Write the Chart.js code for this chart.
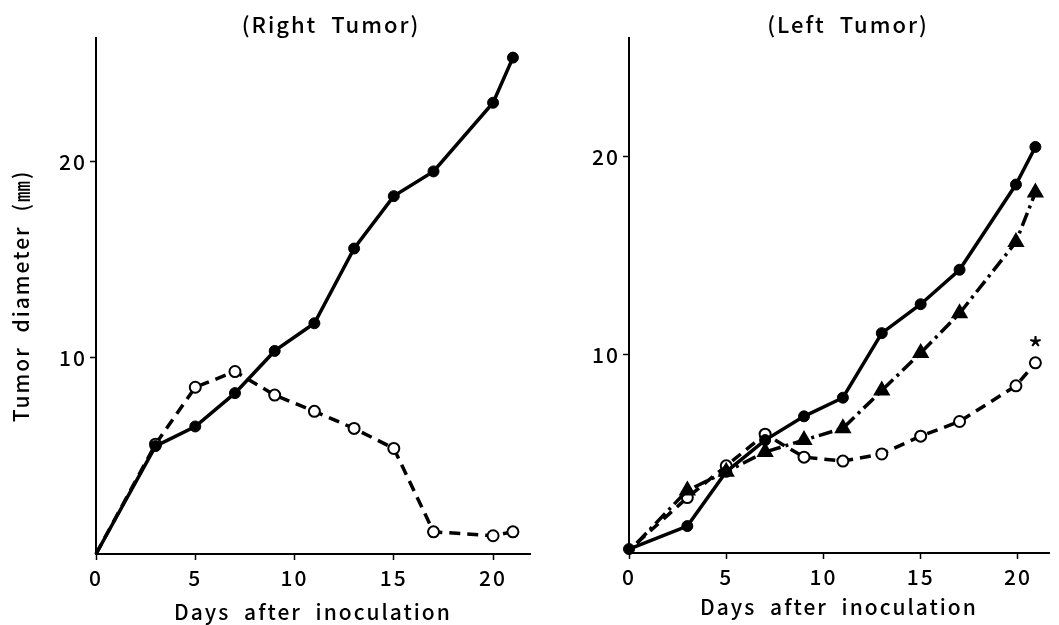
<!DOCTYPE html>
<html>
<head>
<meta charset="utf-8">
<script src="https://cdn.jsdelivr.net/npm/chart.js@4"></script>
<style>
  body { margin: 0; background: #fff; }
  #rightTumor { position: absolute; left: 0; top: 0; }
  #leftTumor { position: absolute; left: 540px; top: 0; }
</style>
</head>
<body>
<canvas id="rightTumor" width="540" height="625"></canvas>
<canvas id="leftTumor" width="519" height="625"></canvas>
<script>
// values (mm)
const xTicks = [0, 5, 10, 15, 20];
const yTicks = [10, 20];

const rightDays = [0, 3, 5, 7, 9, 11, 13, 15, 17, 20, 21];
const rightFilled = [0, 5.5, 6.5, 8.2, 10.35, 11.76, 15.57, 18.24, 19.5, 23.0, 25.3];
const rightOpen = [0, 5.6, 8.5, 9.3, 8.1, 7.27, 6.4, 5.38, 1.13, 0.93, 1.13];

const leftDaysFilled = [0, 3, 5, 7, 9, 11, 13, 15, 17, 19.9, 20.9];
const leftDaysOther = [0.4, 3, 5, 7, 9, 11, 13, 15, 17, 19.9, 20.9];
const leftFilled = [0.2, 1.36, 4.1, 5.7, 6.9, 7.84, 11.1, 12.56, 14.3, 18.6, 20.5];
const leftTriangle = [0.5, 3.16, 4.1, 5.1, 5.7, 6.3, 8.2, 10.1, 12.1, 15.7, 18.2];
const leftOpen = [0.5, 2.8, 4.4, 6.0, 4.84, 4.64, 5.0, 5.9, 6.64, 8.44, 9.6];

const FONT = "'Noto Sans CJK JP', 'DejaVu Sans', sans-serif";

function pts(xs, ys) {
  return xs.map((x, i) => ({ x: x, y: ys[i] }));
}

const spacing = {
  id: 'spacing',
  beforeDraw(chart) {
    chart.ctx.letterSpacing = '2px';
    chart.ctx.wordSpacing = '7px';
  }
};

// panel heading, drawn a little off the plot centre like in the figure
const heading = {
  id: 'heading',
  afterDraw(chart, args, opts) {
    const ctx = chart.ctx;
    const area = chart.chartArea;
    ctx.save();
    ctx.fillStyle = '#000';
    ctx.font = '500 22px ' + FONT;
    ctx.textAlign = 'center';
    ctx.textBaseline = 'middle';
    ctx.fillText(opts.text, (area.left + area.right) / 2 + opts.dx, 25);
    ctx.restore();
  }
};

const asterisk = {
  id: 'asterisk',
  afterDatasetsDraw(chart) {
    const meta = chart.getDatasetMeta(2);
    const last = meta.data[meta.data.length - 1];
    const ctx = chart.ctx;
    ctx.save();
    ctx.fillStyle = '#000';
    ctx.font = '500 30px ' + FONT;
    ctx.textAlign = 'center';
    ctx.textBaseline = 'middle';
    ctx.fillText('*', last.x + 1, last.y - 14);
    ctx.restore();
  }
};

function filledSet(data, noOrigin) {
  return {
    data: data,
    borderColor: '#000',
    borderWidth: 3.5,
    backgroundColor: '#000',
    pointBackgroundColor: '#000',
    pointBorderColor: '#000',
    pointRadius: data.map((p, i) => (i === 0 && noOrigin ? 0 : 5.5)),
    pointBorderWidth: 1,
    clip: false
  };
}

function openSet(data, noOrigin) {
  return {
    data: data,
    borderColor: '#000',
    borderWidth: 3.5,
    borderDash: [11, 7],
    pointBackgroundColor: '#fff',
    pointBorderColor: '#000',
    pointRadius: data.map((p, i) => (i === 0 && noOrigin ? 0 : 5.5)),
    pointBorderWidth: 2,
    clip: false
  };
}

function makeOptions(cfg) {
  return {
    responsive: false,
    animation: false,
    devicePixelRatio: 1,
    layout: { padding: { top: 38, right: cfg.padRight, left: 0, bottom: 0 } },
    plugins: {
      legend: { display: false },
      tooltip: { enabled: false },
      title: { display: false },
      heading: { text: cfg.title, dx: cfg.titleDx }
    },
    scales: {
      x: {
        type: 'linear',
        min: 0,
        max: cfg.xMax,
        afterBuildTicks: s => { s.ticks = xTicks.map(v => ({ value: v })); },
        afterFit: s => { s.height = cfg.xHeight; },
        grid: { drawOnChartArea: false, drawTicks: true, tickLength: 6, tickColor: '#000', tickWidth: 1.5 },
        border: { color: '#000', width: 2 },
        ticks: { color: '#000', padding: 5, maxRotation: 0, font: { family: FONT, size: 21, weight: '500' } },
        title: {
          display: true,
          text: 'Days after inoculation',
          color: '#000',
          padding: cfg.xTitlePad,
          font: { family: FONT, size: 21, weight: '500' }
        }
      },
      y: {
        type: 'linear',
        min: 0,
        max: cfg.yMax,
        afterBuildTicks: s => { s.ticks = yTicks.map(v => ({ value: v })); },
        afterFit: s => { s.width = cfg.yWidth; },
        grid: { drawOnChartArea: false, drawTicks: true, tickLength: 6, tickColor: '#000', tickWidth: 1.5 },
        border: { color: '#000', width: 2 },
        ticks: { color: '#000', padding: 3, font: { family: FONT, size: 21, weight: '500' } },
        title: {
          display: cfg.yTitle,
          text: 'Tumor diameter (㎜)',
          color: '#000',
          padding: 8,
          font: { family: FONT, size: 21, weight: '500' }
        }
      }
    }
  };
}

new Chart(document.getElementById('rightTumor'), {
  type: 'line',
  data: {
    datasets: [
      filledSet(pts(rightDays, rightFilled), true),
      openSet(pts(rightDays, rightOpen), true)
    ]
  },
  options: makeOptions({
    title: '(Right Tumor)', titleDx: 18, padRight: 10, xMax: 21.86, yMax: 26.3,
    xHeight: 71, yWidth: 96, yTitle: true, xTitlePad: 0
  }),
  plugins: [spacing, heading]
});

new Chart(document.getElementById('leftTumor'), {
  type: 'line',
  data: {
    datasets: [
      filledSet(pts(leftDaysFilled, leftFilled), false),
      {
        data: pts(leftDaysOther, leftTriangle),
        borderColor: '#000',
        borderWidth: 3.5,
        borderDash: [14, 5, 3, 5],
        pointStyle: 'triangle',
        pointBackgroundColor: '#000',
        pointBorderColor: '#000',
        pointRadius: leftTriangle.map((v, i) => (i === 0 ? 0 : 6.5)),
        clip: false
      },
      openSet(pts(leftDaysOther, leftOpen), true)
    ]
  },
  options: makeOptions({
    title: '(Left Tumor)', titleDx: 9, padRight: 1, xMax: 21.6, yMax: 26.0,
    xHeight: 72, yWidth: 89, yTitle: false, xTitlePad: 5
  }),
  plugins: [spacing, heading, asterisk]
});
</script>
</body>
</html>
